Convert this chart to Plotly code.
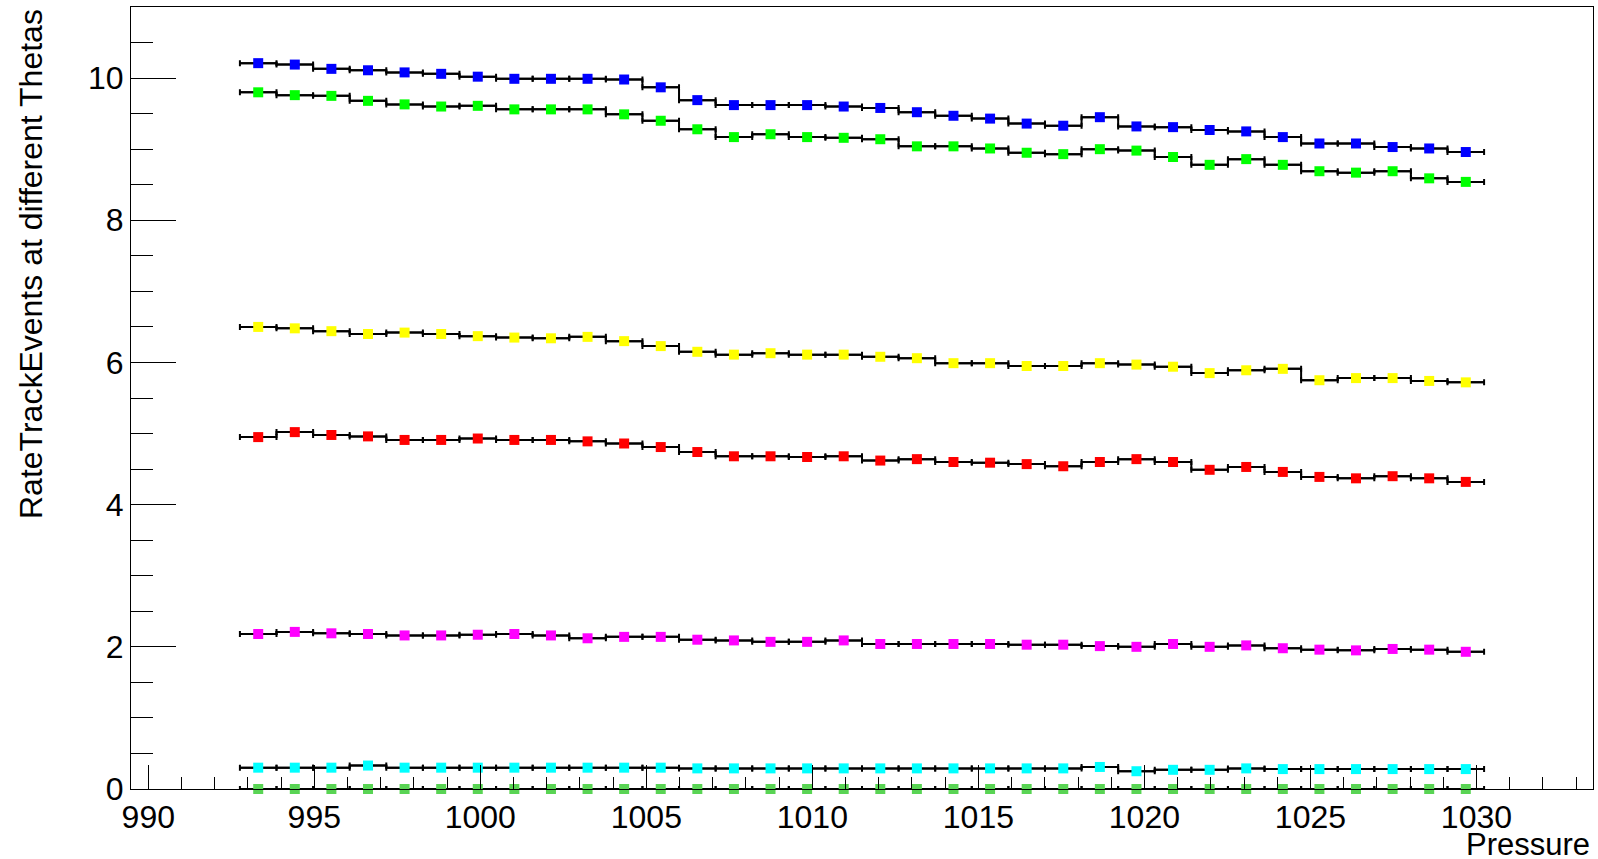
import numpy as np
import plotly.graph_objects as go

# Pressure binning of the rate histograms
PRESSURE_LO = 992.76
PRESSURE_HI = 1030.23
N_BINS = 34

# Track-event rates per pressure bin, one histogram per theta range
rate_blue = [10.21, 10.19, 10.13, 10.11, 10.08, 10.06, 10.02, 9.99, 9.99, 9.99, 9.98, 9.87,
             9.69, 9.62, 9.62, 9.62, 9.60, 9.58, 9.52, 9.47, 9.43, 9.36, 9.33, 9.45,
             9.32, 9.31, 9.27, 9.25, 9.17, 9.08, 9.08, 9.03, 9.01, 8.96]
rate_green = [9.80, 9.76, 9.75, 9.68, 9.63, 9.60, 9.61, 9.56, 9.56, 9.56, 9.49, 9.40,
              9.28, 9.17, 9.21, 9.17, 9.16, 9.14, 9.04, 9.04, 9.01, 8.95, 8.93, 9.00,
              8.98, 8.89, 8.78, 8.86, 8.78, 8.69, 8.67, 8.69, 8.59, 8.54]
rate_yellow = [6.50, 6.48, 6.44, 6.40, 6.42, 6.40, 6.37, 6.35, 6.34, 6.36, 6.30, 6.23,
               6.15, 6.11, 6.13, 6.11, 6.11, 6.08, 6.06, 5.99, 5.99, 5.95, 5.95, 5.99,
               5.97, 5.94, 5.85, 5.89, 5.91, 5.75, 5.78, 5.78, 5.74, 5.72]
rate_red = [4.95, 5.02, 4.98, 4.96, 4.91, 4.91, 4.93, 4.91, 4.91, 4.89, 4.86, 4.81,
            4.74, 4.68, 4.68, 4.67, 4.68, 4.62, 4.64, 4.60, 4.59, 4.57, 4.54, 4.60,
            4.64, 4.60, 4.49, 4.53, 4.46, 4.39, 4.37, 4.40, 4.37, 4.32]
rate_magenta = [2.18, 2.21, 2.19, 2.18, 2.16, 2.16, 2.17, 2.18, 2.16, 2.12, 2.14, 2.14,
                2.10, 2.09, 2.07, 2.07, 2.09, 2.04, 2.04, 2.04, 2.04, 2.03, 2.03, 2.01,
                2.00, 2.04, 2.00, 2.02, 1.98, 1.96, 1.95, 1.97, 1.96, 1.93]
rate_cyan = [0.30, 0.30, 0.30, 0.33, 0.30, 0.30, 0.30, 0.30, 0.30, 0.30, 0.30, 0.30,
             0.29, 0.29, 0.29, 0.29, 0.29, 0.29, 0.29, 0.29, 0.29, 0.29, 0.29, 0.31,
             0.25, 0.27, 0.27, 0.29, 0.28, 0.28, 0.28, 0.28, 0.28, 0.28]
rate_dkgreen = [0, 0, 0, 0, 0, 0, 0, 0, 0, 0, 0, 0, 0, 0, 0, 0, 0,
                0, 0, 0, 0, 0, 0, 0, 0, 0, 0, 0, 0, 0, 0, 0, 0, 0]

series = [
    (rate_blue, "#0000FF"),
    (rate_green, "#00FF00"),
    (rate_yellow, "#FFFF00"),
    (rate_red, "#FF0000"),
    (rate_magenta, "#FF00FF"),
    (rate_cyan, "#00FFFF"),
    (rate_dkgreen, "#59D454"),
]

edges = np.linspace(PRESSURE_LO, PRESSURE_HI, N_BINS + 1)
centers = 0.5 * (edges[:-1] + edges[1:])
half_width = 0.5 * (edges[1] - edges[0])

FONT = "Liberation Sans, Arial, Helvetica, sans-serif"

fig = go.Figure()
for values, color in series:
    # histogram outline drawn as a step line across each bin
    fig.add_trace(go.Scatter(
        x=edges, y=list(values) + [values[-1]],
        mode="lines", line=dict(color="black", width=2, shape="hv"),
        hoverinfo="skip", showlegend=False, cliponaxis=False,
    ))
    # bin contents with bin-width error bars
    fig.add_trace(go.Scatter(
        x=centers, y=values, mode="markers",
        marker=dict(symbol="square", size=10, color=color, line=dict(width=0)),
        error_x=dict(type="constant", value=half_width, color="black",
                     thickness=2, width=3),
        showlegend=False, cliponaxis=False,
    ))

axis_common = dict(
    showgrid=False, zeroline=False, showline=True, linecolor="black",
    linewidth=1, mirror=True, ticks="inside", tickcolor="black", tickwidth=1,
    tickfont=dict(family=FONT, size=32, color="black"),
)

fig.update_layout(
    width=1598, height=859,
    margin=dict(l=131, r=5, t=7, b=70),
    paper_bgcolor="white", plot_bgcolor="white",
    xaxis=dict(range=[989.48, 1033.51], tickmode="linear", tick0=990, dtick=5,
               ticklen=24,
               minor=dict(tickmode="linear", tick0=990, dtick=1, ticklen=12,
                          ticks="inside", tickcolor="black", tickwidth=1),
               **axis_common),
    yaxis=dict(range=[0, 11.0], tickmode="linear", tick0=0, dtick=2,
               ticklen=45,
               minor=dict(tickmode="linear", tick0=0, dtick=0.5, ticklen=22,
                          ticks="inside", tickcolor="black", tickwidth=1),
               **axis_common),
    annotations=[
        dict(text="RateTrackEvents at different Thetas", textangle=-90,
             xref="paper", yref="paper", x=-0.0684, y=1.0,
             xanchor="center", yanchor="top", showarrow=False,
             font=dict(family=FONT, size=32, color="black")),
        dict(text="Pressure", xref="paper", yref="paper", x=0.999, y=-0.071,
             xanchor="right", yanchor="middle", showarrow=False,
             font=dict(family=FONT, size=31, color="black")),
    ],
)

fig.write_html("out.html")
